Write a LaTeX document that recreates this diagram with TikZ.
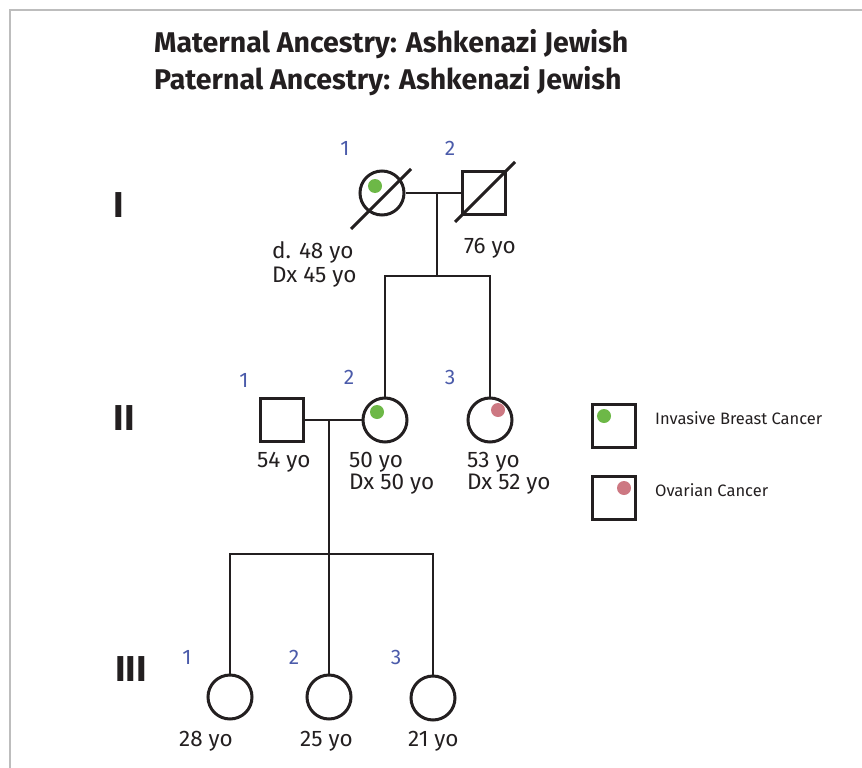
\documentclass[tikz,border=0pt]{standalone}
\usepackage{fontspec}
\setmainfont{Fira Sans}
\usetikzlibrary{positioning}
\definecolor{numblue}{HTML}{4B5BAA}
\definecolor{dotgreen}{HTML}{6DB847}
\definecolor{dotpink}{HTML}{CD7882}
\definecolor{framegray}{HTML}{BDBDBD}
\definecolor{ink}{HTML}{231F20}

\tikzset{
	female/.style={draw=ink, circle, line width=3pt, minimum size=44pt, inner sep=0pt},
	male/.style={draw=ink, rectangle, line width=3pt, minimum size=43pt, inner sep=0pt},
	line/.style={draw=ink, line width=2pt},
	slash/.style={draw=ink, line width=3pt},
	dot/.style={circle, inner sep=0pt, minimum size=14pt},
	age/.style={anchor=base west, font=\fontsize{22.5}{26}\selectfont, text=ink, inner sep=0pt},
	num/.style={anchor=base, font=\fontsize{21}{24}\selectfont, text=numblue, inner sep=0pt},
	gen/.style={anchor=base, font=\fontsize{36}{40}\selectfont\bfseries, text=ink, inner sep=0pt},
	key/.style={anchor=base west, font=\fontsize{16.5}{18}\selectfont, text=ink, inner sep=0pt},
	headline/.style={anchor=base west, font=\fontsize{28.5}{32}\selectfont\bfseries, text=ink, inner sep=0pt}
}

\begin{document}
\begin{tikzpicture}[x=1pt, y=-1pt]
		\useasboundingbox (0,0) rectangle (862,768);
		\draw[framegray, line width=1.5pt] (10,768) |- (862,10);

		% title
		\node[headline] (maternal) at (154,53) {Maternal Ancestry: Ashkenazi Jewish};
		\node[headline] (paternal) at (154,89) {Paternal Ancestry: Ashkenazi Jewish};

		% generations
		\node[gen] (genI) at (118.5,217) {I};
		\node[gen] (genII) at (124,430) {II};
		\node[gen] (genIII) at (131,681) {III};

		% generation I
		\node[female] (I1) at (382,193) {};
		\node[male] (I2) at (484,193) {};
		\node[dot, fill=dotgreen] (I1dot) at (375,186) {};
		\draw[slash] (I1) ++(-31,36) -- ++(60,-60);
		\draw[slash] (I2) ++(-29,29) -- ++(60,-60);
		\node[num] (I1num) at (345,155) {1};
		\node[num] (I2num) at (450,155) {2};
		\node[age] (I1age) at (272,258) {d. 48 yo};
		\node[age] (I1dx) at (272,282) {Dx 45 yo};
		\node[age] (I2age) at (464,253) {76 yo};

		% generation II
		\node[male] (II1) at (282,420) {};
		\node[female] (II2) at (385,420) {};
		\node[female] (II3) at (490,420) {};
		\node[dot, fill=dotgreen] (II2dot) at (377,412) {};
		\node[dot, fill=dotpink] (II3dot) at (498,410) {};
		\node[num] (II1num) at (244,387) {1};
		\node[num] (II2num) at (349,384) {2};
		\node[num] (II3num) at (450,384) {3};
		\node[age] (II1age) at (257,467) {54 yo};
		\node[age] (II2age) at (349,467) {50 yo};
		\node[age] (II2dx) at (349,489) {Dx 50 yo};
		\node[age] (II3age) at (467,467) {53 yo};
		\node[age] (II3dx) at (467,489) {Dx 52 yo};

		% generation III
		\node[female] (III1) at (230,697) {};
		\node[female] (III2) at (329,697) {};
		\node[female] (III3) at (433,698) {};
		\node[num] (III1num) at (187,664) {1};
		\node[num] (III2num) at (294,664) {2};
		\node[num] (III3num) at (396,664) {3};
		\node[age] (III1age) at (179,746) {28 yo};
		\node[age] (III2age) at (300,746) {25 yo};
		\node[age] (III3age) at (408,746) {21 yo};

		% lines of descent
		\coordinate (m1) at (437,193);
		\coordinate (sib1) at (437,276);
		\coordinate (m2) at (329,420);
		\coordinate (sib2) at (329,554);
		\draw[line] (I1) -- (I2);
		\draw[line] (m1) -- (sib1);
		\draw[line] (II2.north) |- (sib1) -| (II3.north);
		\draw[line] (II1) -- (II2);
		\draw[line] (m2) -- (III2.north);
		\draw[line] (III1.north) |- (sib2) -| (III3.north);

		% legend
		\node[male] (breastkey) at (614,426) {};
		\node[dot, fill=dotgreen] (breastdot) at (604,416) {};
		\node[key] (breasttext) at (655,424) {Invasive Breast Cancer};
		\node[male] (ovarykey) at (614,498) {};
		\node[dot, fill=dotpink] (ovarydot) at (624,488) {};
		\node[key] (ovarytext) at (655,496) {Ovarian Cancer};

	\end{tikzpicture}
\end{document}
